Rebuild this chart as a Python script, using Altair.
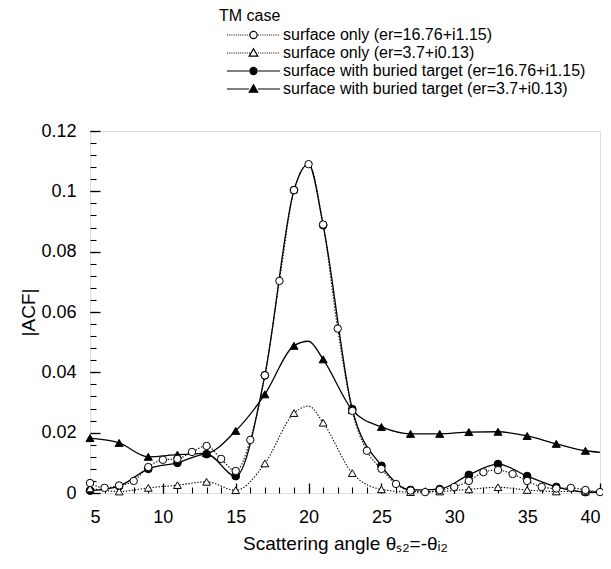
import altair as alt
import pandas as pd

# ---------------- data ----------------
series_names = [
    "surface only (er=16.76+i1.15)",
    "surface only (er=3.7+i0.13)",
    "surface with buried target (er=16.76+i1.15)",
    "surface with buried target (er=3.7+i0.13)",
]

angle_a = list(range(5, 41))
acf_a = [0.0033, 0.0017, 0.0025, 0.0040, 0.0086, 0.0110, 0.0113, 0.0136, 0.0156, 0.0113,
         0.0073, 0.0176, 0.0390, 0.0703, 0.1004, 0.1090, 0.0890, 0.0545, 0.0272, 0.0140,
         0.0080, 0.0030, 0.0008, 0.0003, 0.0010, 0.0020, 0.0040, 0.0069, 0.0076, 0.0063,
         0.0040, 0.0020, 0.0015, 0.0017, 0.0010, 0.0003]

angle_odd = [5, 7, 9, 11, 13, 15, 17, 19, 20, 21, 23, 25, 27, 29, 31, 33, 35, 37, 39, 40]
acf_b = [0.0015, 0.0005, 0.0017, 0.0026, 0.0037, 0.0009, 0.0098, 0.0265, 0.0288, 0.0233,
         0.0066, 0.0012, 0.0003, 0.0005, 0.0012, 0.0019, 0.0010, 0.0005, 0.0005, 0.0003]
acf_c = [0.0008, 0.0023, 0.0080, 0.0100, 0.0129, 0.0056, 0.0390, 0.1004, 0.1090, 0.0888,
         0.0278, 0.0090, 0.0010, 0.0013, 0.0060, 0.0096, 0.0056, 0.0020, 0.0003, 0.0002]
acf_d = [0.0182, 0.0166, 0.0120, 0.0127, 0.0132, 0.0206, 0.0327, 0.0488, 0.0503, 0.0443,
         0.0275, 0.0219, 0.0196, 0.0196, 0.0202, 0.0203, 0.0189, 0.0163, 0.0140, 0.0135]

x_major = [5, 10, 15, 20, 25, 30, 35, 40]
x_minor = list(range(5, 41))
y_major = [0, 0.02, 0.04, 0.06, 0.08, 0.1, 0.12]
y_minor = [round(i * 0.004, 3) for i in range(31)]

rows = []
for a, v in zip(angle_a, acf_a):
    rows.append({"angle": a, "acf": v, "series": series_names[0], "marker": True})
for name, vals in zip(series_names[1:], [acf_b, acf_c, acf_d]):
    for a, v in zip(angle_odd, vals):
        rows.append({"angle": a, "acf": v, "series": name, "marker": a % 2 == 1})
df = pd.DataFrame(rows)

FONT = "Liberation Sans"

# ---------------- legend symbols (line + marker) ----------------
def seg_line(x0, x1, dotted):
    if not dotted:
        return f"M{x0},0H{x1}"
    parts = []
    x = x0
    while x < x1:
        parts.append(f"M{x:.1f},0h1")
        x += 2.2
    return "".join(parts)

def legend_path(marker, dotted):
    x0, x1, xm = 0, 53, 26.5
    line = seg_line(x0, xm - 4.5, dotted) + seg_line(xm + 4.5, x1, dotted)
    if marker == "circle":
        r = 3.6
        m = (f"M{xm + r},0A{r},{r} 0 1,1 {xm - r},0A{r},{r} 0 1,1 {xm + r},0Z")
    else:
        m = f"M{xm},-4.2L{xm + 4.3},3.2L{xm - 4.3},3.2Z"
    return line + m

legend_shapes = [
    legend_path("circle", True),
    legend_path("triangle", True),
    legend_path("circle", False),
    legend_path("triangle", False),
]
legend_fills = ["white", "white", "black", "black"]
legend_strokes = ["black", "black", "black", "black"]

xscale = alt.Scale(domain=[5, 40], nice=False, zero=False)
yscale = alt.Scale(domain=[0, 0.12], nice=False, zero=True)

x_title = "Scattering angle θₛ₂=-θᵢ₂"

ax_x_labels = alt.Axis(values=x_major, ticks=False, domain=False, grid=False, orient="bottom",
                       labelFont=FONT, labelFontSize=18, labelColor="black", labelPadding=15,
                       title=x_title, titleFont=FONT, titleFontSize=19, titleFontWeight="normal",
                       titleColor="black", titlePadding=8)
ax_x_major = alt.Axis(values=x_major, labels=False, domain=False, grid=False, orient="bottom",
                      ticks=True, tickSize=10, offset=-10, tickColor="black", tickWidth=1.3, title="")
ax_x_minor = alt.Axis(values=x_minor, labels=False, domain=False, grid=False, orient="bottom",
                      ticks=True, tickSize=6, offset=-6, tickColor="black", tickWidth=1.1, title="")

ax_y_labels = alt.Axis(values=y_major, ticks=False, domain=False, grid=False, orient="left",
                       format=".2~f",
                       labelFont=FONT, labelFontSize=18, labelColor="black", labelPadding=14,
                       title="|ACF|", titleFont=FONT, titleFontSize=19, titleFontWeight="normal",
                       titleColor="black", titlePadding=2)
ax_y_major = alt.Axis(values=y_major, labels=False, domain=False, grid=False, orient="left",
                      ticks=True, tickSize=10, offset=-10, tickColor="black", tickWidth=1.3, title="")
ax_y_minor = alt.Axis(values=y_minor, labels=False, domain=False, grid=False, orient="left",
                      ticks=True, tickSize=6, offset=-6, tickColor="black", tickWidth=1.1, title="")

axes_pairs = [(ax_x_labels, ax_y_labels), (ax_x_major, ax_y_major), (ax_x_minor, ax_y_minor)]

line_styles = {
    series_names[0]: dict(strokeDash=[1.4, 1.6], strokeWidth=1.1),
    series_names[1]: dict(strokeDash=[1.4, 1.6], strokeWidth=1.1),
    series_names[2]: dict(strokeWidth=1.3),
    series_names[3]: dict(strokeWidth=1.3),
}
point_styles = {
    series_names[0]: dict(shape="circle", fill="white", size=55),
    series_names[1]: dict(shape="triangle-up", fill="white", size=60),
    series_names[2]: dict(shape="circle", fill="black", size=60),
    series_names[3]: dict(shape="triangle-up", fill="black", size=65),
}

order = [series_names[3], series_names[2], series_names[1], series_names[0]]
layers = []
for i, name in enumerate(order):
    sub = df[df["series"] == name]
    if i < len(axes_pairs):
        axx, axy = axes_pairs[i]
        xenc = alt.X("angle:Q", scale=xscale, axis=axx)
        yenc = alt.Y("acf:Q", scale=yscale, axis=axy)
    else:
        xenc = alt.X("angle:Q", scale=xscale, axis=None)
        yenc = alt.Y("acf:Q", scale=yscale, axis=None)
    layers.append(
        alt.Chart(sub).mark_line(interpolate="monotone", color="black", **line_styles[name])
        .encode(x=xenc, y=yenc)
    )
for name in order:
    sub = df[(df["series"] == name) & (df["marker"])]
    st = point_styles[name]
    layers.append(
        alt.Chart(sub).mark_point(shape=st["shape"], filled=True, fill=st["fill"], stroke="black",
                                  strokeWidth=1.0, size=st["size"], opacity=1)
        .encode(x=alt.X("angle:Q", scale=xscale, axis=None),
                y=alt.Y("acf:Q", scale=yscale, axis=None))
    )

legend = alt.Legend(title="TM case", orient="none", legendX=129, legendY=-123,
                    titleFont=FONT, titleFontSize=16, titleFontWeight="normal", titleColor="black",
                    labelFont=FONT, labelFontSize=16, labelColor="black", labelOffset=48,
                    symbolSize=4, symbolStrokeWidth=1.2,
                    symbolOpacity=1, rowPadding=2, titlePadding=3, padding=0, labelLimit=500)

legend_layer = alt.Chart(df).mark_point(opacity=0, size=4, filled=False, strokeWidth=1.2).encode(
    x=alt.X("angle:Q", scale=xscale, axis=None),
    y=alt.Y("acf:Q", scale=yscale, axis=None),
    shape=alt.Shape("series:N", scale=alt.Scale(domain=series_names, range=legend_shapes), legend=legend),
    fill=alt.Fill("series:N", scale=alt.Scale(domain=series_names, range=legend_fills), legend=legend),
    stroke=alt.Stroke("series:N", scale=alt.Scale(domain=series_names, range=legend_strokes), legend=legend),
)
layers.append(legend_layer)

chart = (
    alt.layer(*layers)
    .resolve_axis(x="independent", y="independent")
    .properties(width=510, height=362,
                autosize=alt.AutoSizeParams(type="none"),
                padding={"left": 82, "top": 123, "right": 3, "bottom": 68})
    .configure_view(stroke="#111111", strokeWidth=2)
    .configure(background="white")
)

chart.save("out.html", embed_options={"renderer": "svg", "actions": False})
